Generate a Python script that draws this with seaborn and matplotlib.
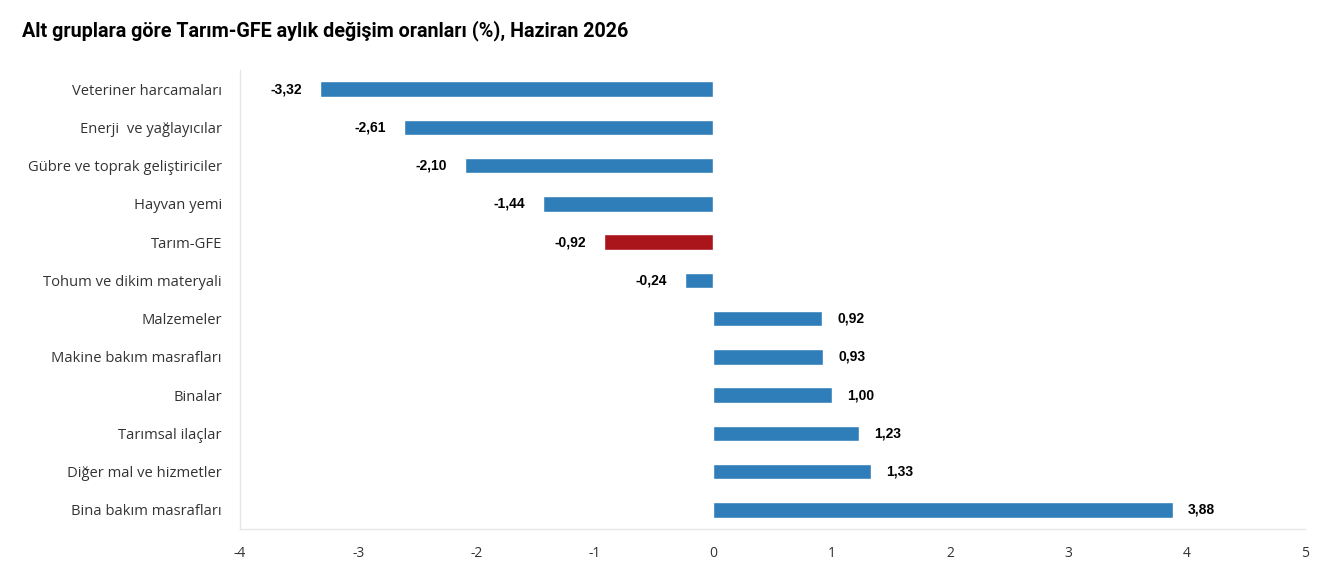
import matplotlib
matplotlib.use("Agg")
import matplotlib.pyplot as plt
import seaborn as sns
import pandas as pd

categories = ["Veteriner harcamaları", "Enerji  ve yağlayıcılar", "Gübre ve toprak geliştiriciler",
              "Hayvan yemi", "Tarım-GFE", "Tohum ve dikim materyali", "Malzemeler",
              "Makine bakım masrafları", "Binalar", "Tarımsal ilaçlar",
              "Diğer mal ve hizmetler", "Bina bakım masrafları"]
values = [-3.32, -2.61, -2.10, -1.44, -0.92, -0.24, 0.92, 0.93, 1.00, 1.23, 1.33, 3.88]
labels = ["-3,32", "-2,61", "-2,10", "-1,44", "-0,92", "-0,24", "0,92", "0,93", "1,00", "1,23", "1,33", "3,88"]
highlight = "Tarım-GFE"
xticks = [-4, -3, -2, -1, 0, 1, 2, 3, 4, 5]

sns.set_theme(style="white")
plt.rcParams['font.family'] = ['Open Sans', 'DejaVu Sans']

df = pd.DataFrame({"cat": categories, "val": values})
blue = "#307EB9"
red = "#AA151C"
palette = {c: (red if c == highlight else blue) for c in categories}

fig = plt.figure(figsize=(13.31, 5.82), dpi=100)
ax = fig.add_axes([0.1803, 0.0911, 0.8002, 0.7886])
sns.barplot(data=df, y="cat", x="val", hue="cat", palette=palette, order=categories,
            legend=False, width=0.40, ax=ax, saturation=1)

ax.set_xlim(-4, 5)
ax.set_ylim(len(categories) - 0.5, -0.5)
ax.set_xticks(xticks)
ax.set_xticklabels([str(t) for t in xticks], fontsize=10, color="#333333")
ax.set_xlabel("")
ax.set_ylabel("")
ax.tick_params(axis="y", labelsize=10.6, colors="#333333", length=0, pad=13)
ax.tick_params(axis="x", length=0, pad=12)
for s in ["top", "right"]:
    ax.spines[s].set_visible(False)
ax.spines["left"].set_color("#e6e6e6")
ax.spines["bottom"].set_color("#e6e6e6")
ax.spines["left"].set_linewidth(1)
ax.spines["bottom"].set_linewidth(1)

for i, (v, lab) in enumerate(zip(values, labels)):
    if v < 0:
        ax.annotate(lab, (v, i), xytext=(-13, 0), textcoords="offset points",
                    ha="right", va="center", fontsize=10, fontweight="bold",
                    family=["Liberation Sans", "DejaVu Sans"], color="#000000")
    else:
        ax.annotate(lab, (v, i), xytext=(11, 0), textcoords="offset points",
                    ha="left", va="center", fontsize=10, fontweight="bold",
                    family=["Liberation Sans", "DejaVu Sans"], color="#000000")

fig.text(22 / 1331, 1 - 31 / 582, "Alt gruplara göre Tarım-GFE aylık değişim oranları (%), Haziran 2026",
         fontsize=14.2, fontweight="bold", ha="left", va="center", color="#000000",
         family=["Roboto", "DejaVu Sans"])

fig.savefig("out.png", dpi=100)
